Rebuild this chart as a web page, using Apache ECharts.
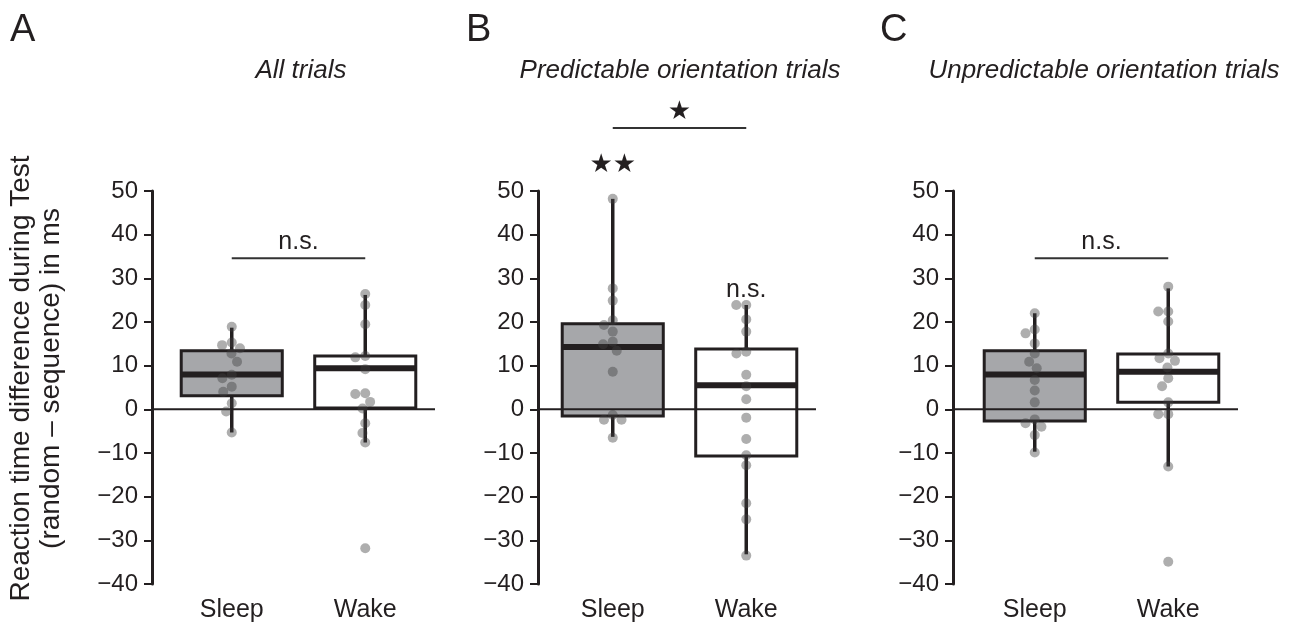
<!DOCTYPE html>
<html lang="en">
<head>
<meta charset="utf-8" />
<style>
  html, body { margin: 0; height: 100%; background: #fff; }
  #chart { width: 1298px; height: 627px; }
</style>
</head>
<body>
<div id="chart"></div>
<script src="https://cdn.jsdelivr.net/npm/echarts@6/dist/echarts.min.js"></script>
<script>
const groups = ['Sleep', 'Wake']
const panelTitles = ['All trials', 'Predictable orientation trials', 'Unpredictable orientation trials']
const panelLetters = ['A', 'B', 'C']

// box stats per group: [low whisker, Q1, median, Q3, high whisker]
const boxA = [[-5.3, 3.1, 8.0, 13.4, 18.7], [-7.6, 0.3, 9.4, 12.2, 26.2]]
const boxB = [[-6.3, -1.5, 14.3, 19.6, 48.2], [-33.2, -10.7, 5.5, 13.8, 23.9]]
const boxC = [[-9.7, -2.7, 8.0, 13.4, 22.0], [-13.1, 1.6, 8.6, 12.7, 27.7]]

// individual subjects
const sleepA = [18.9, 15.3, 14.7, 14.0, 12.8, 10.9, 7.9, 7.1, 5.2, 4.0, 1.4, -0.5, -5.3]
const wakeA = [26.4, 23.9, 19.5, 12.2, 11.9, 9.2, 3.7, 3.5, 1.7, 0.2, -3.2, -5.4, -7.6, -31.8]
const sleepB = [48.2, 27.7, 24.9, 20.4, 19.3, 17.8, 15.5, 14.9, 13.4, 8.6, -1.3, -2.4, -2.4, -6.5]
const wakeB = [23.9, 23.9, 20.6, 17.8, 13.2, 12.8, 7.9, 5.3, 2.3, -1.9, -6.8, -10.5, -12.8, -21.5, -25.2, -33.5]
const sleepC = [22.0, 18.3, 17.4, 15.1, 12.8, 10.9, 9.4, 6.7, 4.3, 1.6, -2.3, -3.2, -4.0, -5.9, -9.9]
const wakeC = [28.1, 22.4, 22.4, 20.1, 12.8, 11.7, 11.1, 9.6, 7.1, 5.3, 1.6, -1.1, -1.1, -13.1, -34.9]

// significance brackets: [from group, to group, value]
const bracketA = [[0, 1, 34.6]]
const bracketB = [[0, 1, 64.4]]
const bracketC = [[0, 1, 34.6]]
const bracketTextA = ['n.s.']
const bracketTextB = ['\u2605']
const bracketTextC = ['n.s.']

// single-group marks: [group, value]
const markB = [[0, 55.9], [1, 27.4]]
const markTextB = ['\u2605\u2605', 'n.s.']

const boxes = [boxA, boxB, boxC]
const points = [[sleepA, wakeA], [sleepB, wakeB], [sleepC, wakeC]]
const brackets = [bracketA, bracketB, bracketC]
const bracketTexts = [bracketTextA, bracketTextB, bracketTextC]

const INK = '#231f20'
const FONT = 'Liberation Sans'
const gridLeft = [165, 546, 968]
const axisOffset = [13, 8, 15]
const boxFill = ['#a6a7aa', '#ffffff']

const chart = echarts.init(document.getElementById('chart'), null, { renderer: 'canvas' })

const grids = [], xAxes = [], yAxes = [], series = []

for (let p = 0; p < 3; p++) {
  grids.push({ left: gridLeft[p], top: 191, width: 267, height: 393 })
  xAxes.push({
    type: 'category',
    gridIndex: p,
    data: groups,
    axisLine: { show: false, onZero: false },
    axisTick: { show: false },
    axisLabel: { fontSize: 25, color: INK, fontFamily: FONT, margin: 14 },
    jitter: 28,
    jitterOverlap: false,
    jitterMargin: 0
  })
  yAxes.push({
    type: 'value',
    gridIndex: p,
    min: -40,
    max: 50,
    interval: 10,
    offset: axisOffset[p],
    name: p === 0 ? 'Reaction time difference during Test\n(random \u2013 sequence) in ms' : '',
    nameLocation: 'middle',
    nameRotate: 90,
    nameGap: 86,
    nameTextStyle: { fontSize: 28, lineHeight: 30, color: INK, fontFamily: FONT, padding: [0, 0, 0, 18] },
    axisLine: { show: true, lineStyle: { color: INK, width: 3 } },
    axisTick: { show: true, length: 8, lineStyle: { color: INK, width: 2 } },
    axisLabel: {
      fontSize: 24, color: INK, fontFamily: FONT, margin: 14,
      formatter: (v) => String(v).replace('-', '\u2212')
    },
    splitLine: { show: false }
  })

  // boxes
  series.push({
    type: 'custom',
    xAxisIndex: p,
    yAxisIndex: p,
    z: 2,
    silent: true,
    data: boxes[p].map((b, i) => [i].concat(b)),
    encode: { x: 0, y: [1, 2, 3, 4, 5] },
    renderItem: (params, api) => {
      const i = api.value(0)
      const lo = api.coord([i, api.value(1)])
      const q1 = api.coord([i, api.value(2)])
      const md = api.coord([i, api.value(3)])
      const q3 = api.coord([i, api.value(4)])
      const hi = api.coord([i, api.value(5)])
      const w = api.size([1, 0])[0] * 0.757
      const x0 = md[0] - w / 2
      return {
        type: 'group',
        children: [
          { type: 'line', shape: { x1: lo[0], y1: lo[1], x2: hi[0], y2: hi[1] }, style: { stroke: INK, lineWidth: 3.5 } },
          { type: 'rect', shape: { x: x0, y: q3[1], width: w, height: q1[1] - q3[1] },
            style: { fill: boxFill[i], stroke: INK, lineWidth: 3 } },
          { type: 'line', shape: { x1: x0, y1: md[1], x2: x0 + w, y2: md[1] }, style: { stroke: INK, lineWidth: 6 } }
        ]
      }
    }
  })

  // zero line from the y axis to the end of the panel
  const off = axisOffset[p]
  series.push({
    type: 'custom',
    xAxisIndex: p,
    yAxisIndex: p,
    z: 3,
    silent: true,
    data: [[0, 0]],
    renderItem: (params, api) => {
      const cs = params.coordSys
      const y = api.coord([0, api.value(1)])[1]
      return { type: 'line', shape: { x1: cs.x - off, y1: y, x2: cs.x + cs.width + 3, y2: y }, style: { stroke: INK, lineWidth: 2 } }
    }
  })

  // subjects
  points[p].forEach((vals, g) => {
    series.push({
      type: 'scatter',
      xAxisIndex: p,
      yAxisIndex: p,
      z: 4,
      silent: true,
      symbolSize: 10,
      itemStyle: { color: 'rgba(64,64,64,0.53)' },
      data: vals.map((v) => [g, v])
    })
  })

  // significance bracket
  const texts = bracketTexts[p]
  series.push({
    type: 'custom',
    xAxisIndex: p,
    yAxisIndex: p,
    z: 5,
    silent: true,
    clip: false,
    data: brackets[p],
    encode: { x: [0, 1], y: 2 },
    renderItem: (params, api) => {
      const a = api.coord([api.value(0), api.value(2)])
      const b = api.coord([api.value(1), api.value(2)])
      const t = texts[params.dataIndex]
      const star = t.indexOf('\u2605') >= 0
      return {
        type: 'group',
        children: [
          { type: 'line', shape: { x1: a[0], y1: a[1], x2: b[0], y2: b[1] }, style: { stroke: '#333', lineWidth: 2 } },
          { type: 'text', x: (a[0] + b[0]) / 2, y: a[1] - 16,
            style: { text: t, align: 'center', verticalAlign: 'middle', fill: INK,
              font: star ? '26px "DejaVu Sans"' : '25px "' + FONT + '"' } }
        ]
      }
    }
  })
}

// marks over single groups (panel B)
series.push({
  type: 'custom',
  xAxisIndex: 1,
  yAxisIndex: 1,
  z: 5,
  silent: true,
  clip: false,
  data: markB,
  renderItem: (params, api) => {
    const c = api.coord([api.value(0), api.value(1)])
    const t = markTextB[params.dataIndex]
    const star = t.indexOf('\u2605') >= 0
    return { type: 'text', x: c[0], y: c[1],
      style: { text: t, align: 'center', verticalAlign: 'middle', fill: INK,
        font: star ? '26px "DejaVu Sans"' : '25px "' + FONT + '"' } }
  }
})

const letterX = [10, 466, 880]
const titleX = [301, 680, 1104]
const graphic = []
for (let p = 0; p < 3; p++) {
  graphic.push({ type: 'text', left: letterX[p], top: 12,
    style: { text: panelLetters[p], font: '38px "' + FONT + '"', fill: INK } })
  graphic.push({ type: 'text', x: titleX[p], y: 71,
    style: { text: panelTitles[p], font: 'italic 26px "' + FONT + '"', fill: INK, align: 'center', verticalAlign: 'middle' } })
}

chart.setOption({
  animation: false,
  grid: grids,
  xAxis: xAxes,
  yAxis: yAxes,
  series: series,
  graphic: graphic
})

window.addEventListener('resize', chart.resize)
</script>
</body>
</html>
